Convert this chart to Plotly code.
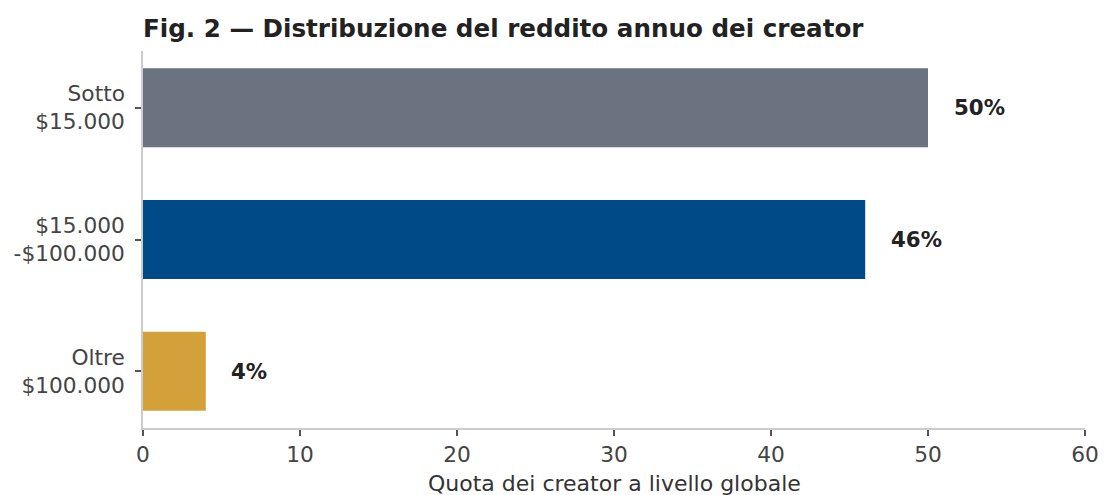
import plotly.graph_objects as go

categories = ["Sotto<br>$15.000", "$15.000<br>-$100.000", "Oltre<br>$100.000"]
values = [50, 46, 4]
labels = ["50%", "46%", "4%"]
colors = ["#6b7280", "#004a87", "#d4a03a"]
x_ticks = [0, 10, 20, 30, 40, 50, 60]
x_title = "Quota dei creator a livello globale"

FONT = "DejaVu Sans"

fig = go.Figure()
fig.add_trace(go.Bar(
    x=values, y=categories, orientation="h",
    marker=dict(color=colors, line=dict(width=0)),
    width=0.6, hoverinfo="skip", showlegend=False,
))

for c, v, t in zip(categories, values, labels):
    fig.add_annotation(x=v + 1.5, y=c, text=f"<b>{t}</b>", showarrow=False,
                       xanchor="left", yanchor="middle",
                       font=dict(family=FONT, size=21.3, color="#222222"))

# x-axis title placed as a paper annotation for precise vertical position
fig.add_annotation(x=0.5, xref="paper", y=-55/377, yref="paper",
                   text=x_title, showarrow=False,
                   xanchor="center", yanchor="middle",
                   font=dict(family=FONT, size=22, color="#333333"))

fig.update_layout(
    width=1104, height=495,
    margin=dict(l=143, r=19, t=51, b=67),
    paper_bgcolor="white", plot_bgcolor="white",
    font=dict(family=FONT, size=21.7, color="#444444"),
    title=dict(text="<b>Fig. 2 — Distribuzione del reddito annuo dei creator</b>",
               x=143/1104, xref="container", xanchor="left",
               y=1 - 28/495, yref="container", yanchor="middle",
               font=dict(family=FONT, size=24.6, color="#222222")),
    bargap=0.4,
)
fig.update_xaxes(
    range=[0, 60], tickvals=x_ticks, showgrid=False, zeroline=False,
    showline=True, linecolor="#cccccc", linewidth=1.5, automargin=False,
    ticks="outside", ticklen=6, tickwidth=1.5, tickcolor="#555555",
    tickfont=dict(family=FONT, size=21.7, color="#444444"),
)
fig.update_yaxes(
    range=[2.43, -0.43], showgrid=False, zeroline=False,
    showline=True, linecolor="#cccccc", linewidth=1.5, automargin=False,
    ticks="outside", ticklen=6, tickwidth=1.5, tickcolor="#555555",
    tickfont=dict(family=FONT, size=21.7, color="#444444"),
    ticklabelstandoff=6,
)

fig.write_html("out.html")
